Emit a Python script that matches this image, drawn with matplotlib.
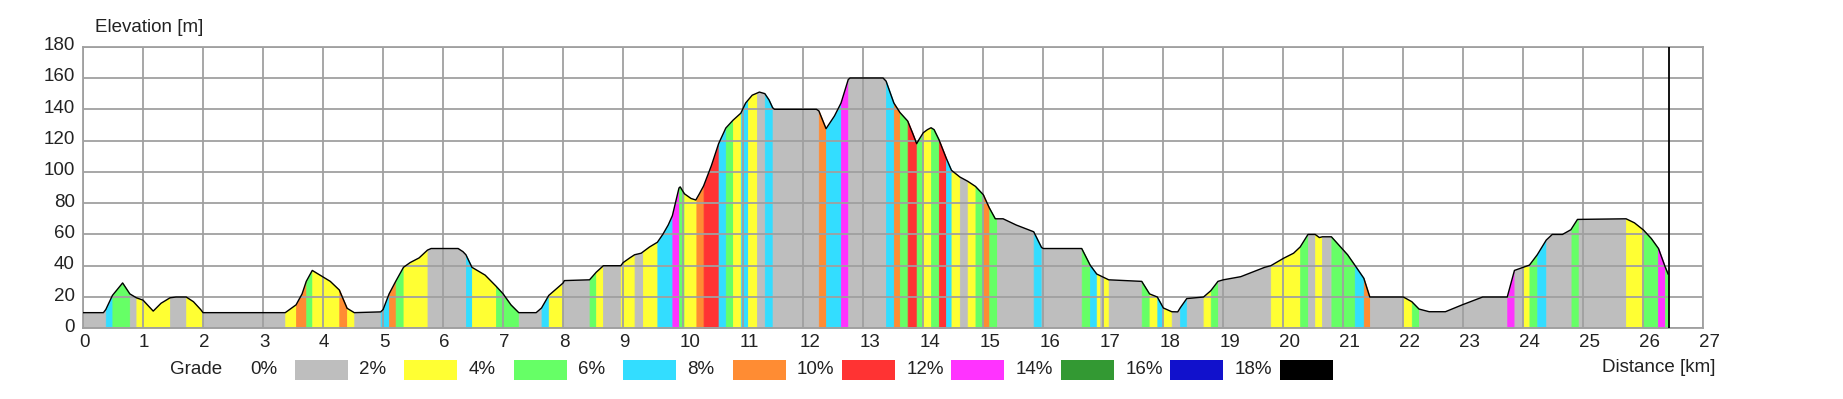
import numpy as np
import matplotlib
matplotlib.use("Agg")
import matplotlib.pyplot as plt
import matplotlib.transforms as mtransforms
from matplotlib.patches import Rectangle

plt.rcParams["font.family"] = ["Liberation Sans", "DejaVu Sans"]
plt.rcParams["text.color"] = "#222222"
plt.rcParams["xtick.color"] = "#222222"
plt.rcParams["ytick.color"] = "#222222"

# elevation profile (km, m)
dist_km = [0.0, 0.34, 0.38, 0.49, 0.66, 0.78, 0.89, 1.0, 1.17, 1.3, 1.45, 1.55, 1.72, 1.84, 1.96, 2.0,
           3.37, 3.55, 3.65, 3.72, 3.82, 3.95, 4.12, 4.27, 4.40, 4.52, 4.96, 5.0, 5.1, 5.21, 5.34, 5.45,
           5.6, 5.74, 5.8, 6.25, 6.33, 6.38, 6.48, 6.7, 6.88, 7.0, 7.13, 7.26, 7.55, 7.64, 7.76, 8.0,
           8.02, 8.44, 8.55, 8.67, 8.96, 9.0, 9.11, 9.19, 9.3, 9.44, 9.57, 9.66, 9.75, 9.82, 9.93, 9.95,
           10.02, 10.13, 10.21, 10.27, 10.34, 10.47, 10.59, 10.71, 10.83, 10.96, 11.04, 11.15, 11.27,
           11.36, 11.43, 11.49, 11.52, 12.22, 12.26, 12.38, 12.52, 12.63, 12.75, 12.78, 13.33, 13.38,
           13.51, 13.61, 13.74, 13.82, 13.89, 13.93, 14.0, 14.07, 14.13, 14.18, 14.26, 14.38, 14.47,
           14.61, 14.74, 14.87, 15.0, 15.1, 15.2, 15.33, 15.55, 15.84, 15.97, 16.0, 16.64, 16.78, 16.89,
           17.09, 17.64, 17.77, 17.9, 18.0, 18.14, 18.24, 18.28, 18.39, 18.67, 18.79, 18.91, 19.0,
           19.29, 19.49, 19.69, 19.79, 20.0, 20.17, 20.28, 20.41, 20.53, 20.6, 20.65, 20.8, 20.93,
           21.07, 21.19, 21.34, 21.44, 22.0, 22.14, 22.26, 22.43, 22.7, 22.98, 23.25, 23.32, 23.73,
           23.85, 24.0, 24.1, 24.23, 24.38, 24.48, 24.65, 24.79, 24.9, 25.71, 25.85, 26.0, 26.13,
           26.25, 26.36, 26.41]
elev_m = [10, 10, 12, 21, 29, 22, 19.5, 18, 11, 16, 19.5, 20, 20, 17, 12, 10,
          10, 15, 22, 30, 37, 34, 30, 24.5, 12.8, 10, 10.5, 12, 22, 30, 39, 42,
          45, 50, 51, 51, 49, 47, 39, 34, 27, 22, 15, 10, 10, 13, 21, 29,
          30.5, 31, 35.8, 40, 40, 42, 45, 47, 48, 52, 55, 60, 66, 72, 89.7, 90.4,
          86, 83, 82, 86, 91, 104, 118, 128, 133, 137.5, 144, 149, 151,
          150, 146, 141, 140, 140, 139, 127.6, 135.7, 144, 159, 160, 160, 158,
          144, 138, 132.5, 125, 118, 120.7, 125, 127, 128.2, 127, 120.7, 109, 101,
          96.7, 94, 90.7, 85.4, 77, 70, 70, 66, 61.7, 51.7, 51, 51, 40.4, 34.7,
          31, 30, 22, 20, 13, 10.6, 10.5, 13, 19, 20, 24, 30, 31,
          33, 36, 39, 40, 44.7, 48, 52, 60, 60, 58, 58.5, 58.5, 53,
          47, 40.4, 32, 20, 20, 17, 12.3, 10.6, 10.6, 15, 19, 20, 20,
          37, 39, 40.4, 47, 56.4, 60, 60, 63, 69.6, 70, 67.4, 62.8, 57.4,
          51, 39.4, 34.7]

# grade bands: start of each band (km) and its grade class
band_start_km = [0.0, 0.38, 0.49, 0.78, 0.89, 1.45, 1.72, 2.0, 3.37, 3.55, 3.72, 3.82, 4.27, 4.40,
                 4.52, 4.96, 5.1, 5.21, 5.34, 5.74, 6.38, 6.48, 6.88, 7.26, 7.64, 7.76, 8.0, 8.44,
                 8.55, 8.67, 8.96, 9.19, 9.33, 9.57, 9.82, 9.93, 10.02, 10.22, 10.34, 10.59, 10.71,
                 10.83, 10.96, 11.08, 11.23, 11.36, 11.49, 12.26, 12.38, 12.63, 12.75, 13.38, 13.51,
                 13.61, 13.74, 13.89, 14.0, 14.13, 14.26, 14.38, 14.47, 14.61, 14.74, 14.87, 15.0,
                 15.1, 15.23, 15.84, 15.97, 16.64, 16.78, 16.89, 16.95, 17.0, 17.09, 17.64, 17.77,
                 17.9, 18.0, 18.14, 18.28, 18.39, 18.67, 18.79, 18.91, 19.79, 20.28, 20.41, 20.53,
                 20.65, 20.8, 21.19, 21.34, 21.44, 22.0, 22.14, 22.26, 23.73, 23.85, 24.0, 24.1,
                 24.23, 24.38, 24.8, 24.92, 25.71, 26.0, 26.24, 26.36]
band_grade = [0, 3, 2, 0, 1, 0, 1, 0, 1, 4, 2, 1, 4, 1,
              0, 3, 4, 2, 1, 0, 3, 1, 2, 0, 3, 1, 0, 2,
              1, 0, 1, 0, 1, 3, 6, 2, 1, 4, 5, 3, 2,
              1, 3, 1, 0, 3, 0, 4, 3, 6, 0, 3, 4,
              2, 5, 2, 1, 2, 5, 3, 1, 0, 1, 2, 4,
              2, 0, 3, 0, 2, 3, 1, 0, 1, 0, 2, 1,
              3, 1, 0, 3, 0, 1, 2, 0, 1, 2, 0, 1,
              0, 2, 3, 4, 0, 1, 2, 0, 6, 0, 1, 2,
              3, 0, 2, 0, 1, 2, 6, 2]
route_end_km = 26.41
cursor_km = 26.43

grade_labels = ["0%", "2%", "4%", "6%", "8%", "10%", "12%", "14%", "16%", "18%"]
grade_colors = ["#bebebe", "#ffff33", "#66ff66", "#33ddff", "#ff8c33",
                "#ff3333", "#ff33ff", "#339933", "#1111cc", "#000000"]

W, H = 1843, 399
fig = plt.figure(figsize=(W / 100, H / 100), dpi=100)
ax = fig.add_axes([83 / W, 1 - 328.3 / H, (1703.5 - 83) / W, (328.3 - 46.7) / H])

d = np.array(dist_km)
e = np.array(elev_m)
ends = band_start_km[1:] + [route_end_km]
for a, b, g in zip(band_start_km, ends, band_grade):
    xs = np.concatenate([[a], d[(d > a) & (d < b)], [b]])
    ys = np.interp(xs, d, e)
    c = grade_colors[g]
    ax.fill_between(xs, 0, ys, facecolor=c, edgecolor=c, lw=0.6, zorder=1)

ax.plot(d, e, color="black", lw=1.0, zorder=3)
ax.axvline(cursor_km, color="black", lw=1.3, zorder=4)

ax.set_xlim(0, 27)
ax.set_ylim(0, 180)
ax.set_xticks(range(0, 28))
ax.set_yticks(range(0, 181, 20))
ax.set_axisbelow(False)
ax.grid(True, color="#a0a0a0", lw=1.3)
for s in ax.spines.values():
    s.set_color("#a0a0a0")
    s.set_linewidth(1.3)
ax.tick_params(length=0, labelsize=13.5)
ax.tick_params(axis="x", pad=4)
ax.tick_params(axis="y", pad=6)

for lab in ax.get_xticklabels():
    lab.set_ha("left")
    lab.set_transform(lab.get_transform() + mtransforms.ScaledTranslation(-0.04, 0, fig.dpi_scale_trans))
for lab in ax.get_yticklabels():
    lab.set_transform(lab.get_transform() + mtransforms.ScaledTranslation(0, 0.03, fig.dpi_scale_trans))

fig.text(95 / W, 1 - 28 / H, "Elevation [m]", fontsize=13.5, ha="left", va="center")
fig.text(1716 / W, 1 - 367 / H, "Distance [km]", fontsize=13.5, ha="right", va="center")
fig.text(170 / W, 1 - 370 / H, "Grade", fontsize=13.5, ha="left", va="center")

# legend row of grade colours
for i, (lbl, c) in enumerate(zip(grade_labels, grade_colors)):
    x0 = 295 + i * 109.4
    fig.text((x0 - 45) / W, 1 - 370 / H, lbl, fontsize=13.5, ha="left", va="center")
    fig.patches.append(Rectangle((x0 / W, 1 - 380 / H), 53 / W, 20 / H,
                                 transform=fig.transFigure, facecolor=c, edgecolor="none"))

fig.savefig("out.png", dpi=100)
